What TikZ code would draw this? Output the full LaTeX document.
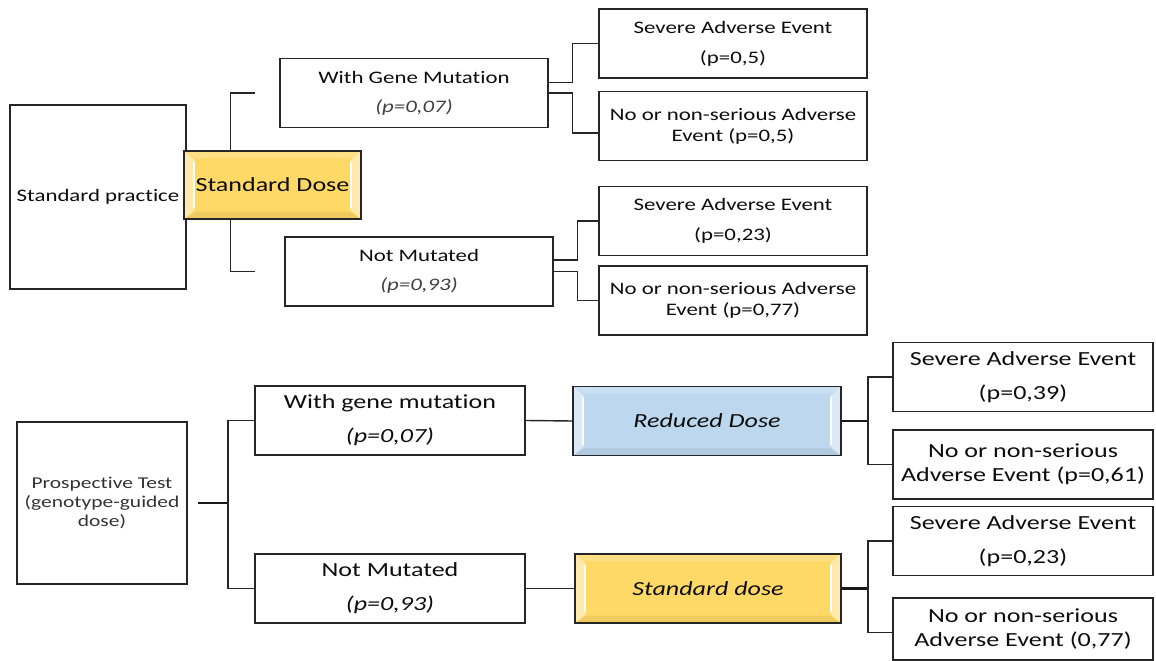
\documentclass[tikz,border=0pt]{standalone}
\usepackage{fontspec}
\setmainfont{Carlito}[FakeStretch=1.3, Ligatures=NoCommon]

\definecolor{doseyellow}{HTML}{FFD966}
\definecolor{doseblue}{HTML}{BDD7EE}

\begin{document}
\begin{tikzpicture}[x=0.02cm, y=-0.02cm,
  every node/.style={draw=black!85, line width=0.7pt, align=center, inner sep=2pt, text=black!95},
  small/.style={font=\fontsize{10}{12}\selectfont},
  big/.style={font=\fontsize{11.4}{13.7}\selectfont},
  wide/.style={minimum width=5.36cm, minimum height=1.38cm},
  bevel/.style={line width=0.8pt, path picture={
    \fill[white, opacity=.45] (path picture bounding box.north west) -- ([xshift=6pt,yshift=-5pt]path picture bounding box.north west)
      -- ([xshift=6pt,yshift=5pt]path picture bounding box.south west) -- (path picture bounding box.south west) -- cycle;
    \fill[white, opacity=.45] (path picture bounding box.north east) -- ([xshift=-6pt,yshift=-5pt]path picture bounding box.north east)
      -- ([xshift=-6pt,yshift=5pt]path picture bounding box.south east) -- (path picture bounding box.south east) -- cycle;
    \fill[white, opacity=.2] (path picture bounding box.north west) -- ([xshift=6pt,yshift=-4pt]path picture bounding box.north west)
      -- ([xshift=-6pt,yshift=-4pt]path picture bounding box.north east) -- (path picture bounding box.north east) -- cycle;
    \fill[black, opacity=.06] (path picture bounding box.south west) -- ([xshift=6pt,yshift=4pt]path picture bounding box.south west)
      -- ([xshift=-6pt,yshift=4pt]path picture bounding box.south east) -- (path picture bounding box.south east) -- cycle;
    \draw[white, line width=1.2pt] ([xshift=5.5pt,yshift=-6pt]path picture bounding box.north west) -- ([xshift=5.5pt,yshift=6pt]path picture bounding box.south west);
    \draw[white, line width=1.2pt] ([xshift=-5.5pt,yshift=-6pt]path picture bounding box.north east) -- ([xshift=-5.5pt,yshift=6pt]path picture bounding box.south east);
  }},
  link/.style={draw=black!85, line width=0.8pt},
  heavy/.style={draw=black!90, line width=1.6pt}
]
\useasboundingbox (0,0) rectangle (1156,661);

% standard practice branch
\node[small, minimum width=3.52cm, minimum height=3.68cm] (sp) at (98,197) {Standard practice};
\node[big, bevel, fill=doseyellow, minimum width=3.54cm, minimum height=1.36cm] (sdose) at (272.5,185) {Standard Dose};
\node[small, wide] (gm) at (414,93) {With Gene Mutation\\[4.5pt]{\color{black!75}\textit{(p=0,07)}}};
\node[small, wide] (nm) at (419,271.5) {Not Mutated\\[4.5pt]{\color{black!75}\textit{(p=0,93)}}};
\node[small, wide] (s1) at (733,43.5) {Severe Adverse Event\\[5pt](p=0,5)};
\node[small, wide] (n1) at (733,126) {No or non-serious Adverse\\Event (p=0,5)};
\node[small, wide] (s2) at (733,221) {Severe Adverse Event\\[5pt](p=0,23)};
\node[small, wide] (n2) at (733,300.5) {No or non-serious Adverse\\Event (p=0,77)};

\draw[link, shorten >=14pt] ([xshift=-24pt]sdose.north) |- (gm.west);
\draw[link, shorten >=17pt] ([xshift=-24pt]sdose.south) |- (nm.west);
\draw[link] ([yshift=6pt]gm.east) -- ++(24,0) |- (s1.west);
\draw[link] (gm.east) -- ++(24,0) |- ([yshift=-4pt]n1.west);
\draw[link] ([yshift=6.5pt]nm.east) -- ++(24,0) |- (s2.west);
\draw[link] (nm.east) -- ++(24,0) |- (n2.west);

% genotype-guided branch
\node[font=\fontsize{9.4}{11}\selectfont, text=black!80, minimum width=3.4cm, minimum height=3.24cm] (pt) at (102,503) {Prospective Test\\(genotype-guided\\dose)};
\node[big, wide, minimum width=5.4cm] (gm2) at (390,420.5) {With gene mutation\\[5.5pt]\textit{(p=0,07)}};
\node[big, wide, minimum width=5.4cm] (nm2) at (390,588.5) {Not Mutated\\[5.5pt]\textit{(p=0,93)}};
\node[big, bevel, fill=doseblue, wide] (rd) at (707,421) {\textit{Reduced Dose}};
\node[big, bevel, fill=doseyellow, wide, minimum width=5.32cm] (sd2) at (708,588.5) {\textit{Standard dose}};
\node[big, wide, minimum width=5.2cm] (s3) at (1023,377) {Severe Adverse Event\\[5.5pt](p=0,39)};
\node[big, wide, minimum width=5.2cm] (n3) at (1023,464.5) {No or non-serious\\Adverse Event (p=0,61)};
\node[big, wide, minimum width=5.2cm] (s4) at (1023,541) {Severe Adverse Event\\[5.5pt](p=0,23)};
\node[big, wide, minimum width=5.2cm, minimum height=1.24cm] (n4) at (1023,629) {No or non-serious\\Adverse Event (0,77)};

\coordinate (ptfork) at (228,503);
\coordinate (rdfork) at (868,421);
\coordinate (sdfork) at (868,588.5);
\draw[heavy, shorten <=6pt] (pt.east) -- (ptfork);
\draw[link] (gm2.west) -| (ptfork) |- (nm2.west);
\draw[link] (gm2.east) -- (rd.west);
\draw[link] (nm2.east) -- (sd2.west);
\draw[heavy] (rd.east) -- (rdfork);
\draw[link] (s3.west) -| (rdfork) |- (n3.west);
\draw[heavy] (sd2.east) -- (sdfork);
\draw[link] (s4.west) -| (sdfork) |- ([yshift=-2pt]n4.west);
\end{tikzpicture}
\end{document}
